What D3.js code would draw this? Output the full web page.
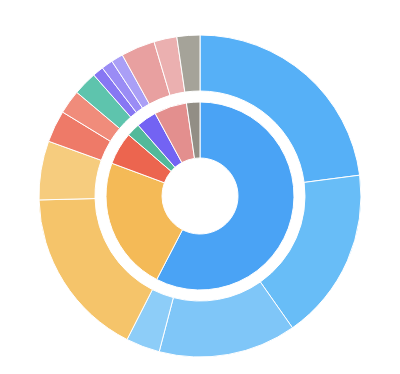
<!DOCTYPE html>
<html><head><meta charset="utf-8">
<script src="https://cdn.jsdelivr.net/npm/d3@7"></script>
<style>html,body{margin:0;padding:0;background:#fff;}</style>
</head><body>
<svg id="chart" width="400" height="374"></svg>
<script>
// Inner ring (parents)
const parents = ["A","B","C","D","E","F","G"];
const parentValues = [57.5, 23.0, 5.6, 2.3, 3.5, 5.6, 2.3];
const parentColors = ["#4AA3F5","#F4BA57","#EC654F","#52B99A","#7363F3","#E38F8E","#928E85"];
// Outer ring (children)
const childParents = ["A","A","A","A","B","B","C","C","D","E","E","E","F","F","G"];
const childValues = [22.9, 17.3, 13.8, 3.4, 17.1, 5.9, 3.2, 2.4, 2.4, 1.1, 1.15, 1.2, 3.4, 2.3, 2.3];
const childColors = ["#56B0F7","#68BDF7","#7FC6F8","#8DCDF8","#F5C46A","#F6CC7E","#EE7A68","#F08C7B","#5EC4AD","#8777F3","#9A8CF5","#AA9FF6","#E8A0A0","#EBB0B0","#A5A399"];

const svg = d3.select("#chart");
const g = svg.append("g").attr("transform","translate(200,196)");

const pie = d3.pie().sort(null).value(d => d);
const innerArcs = pie(parentValues);
const outerArcs = pie(childValues);

const innerArc = d3.arc().innerRadius(38).outerRadius(94);
const outerArc = d3.arc().innerRadius(105).outerRadius(161);

g.selectAll("path.inner").data(innerArcs).join("path")
  .attr("class","inner")
  .attr("d", innerArc)
  .attr("fill", (d,i) => parentColors[i])
  .attr("stroke","#fff").attr("stroke-width",1);

g.selectAll("path.outer").data(outerArcs).join("path")
  .attr("class","outer")
  .attr("d", outerArc)
  .attr("fill", (d,i) => childColors[i])
  .attr("stroke","#fff").attr("stroke-width",1);
</script>
</body></html>
